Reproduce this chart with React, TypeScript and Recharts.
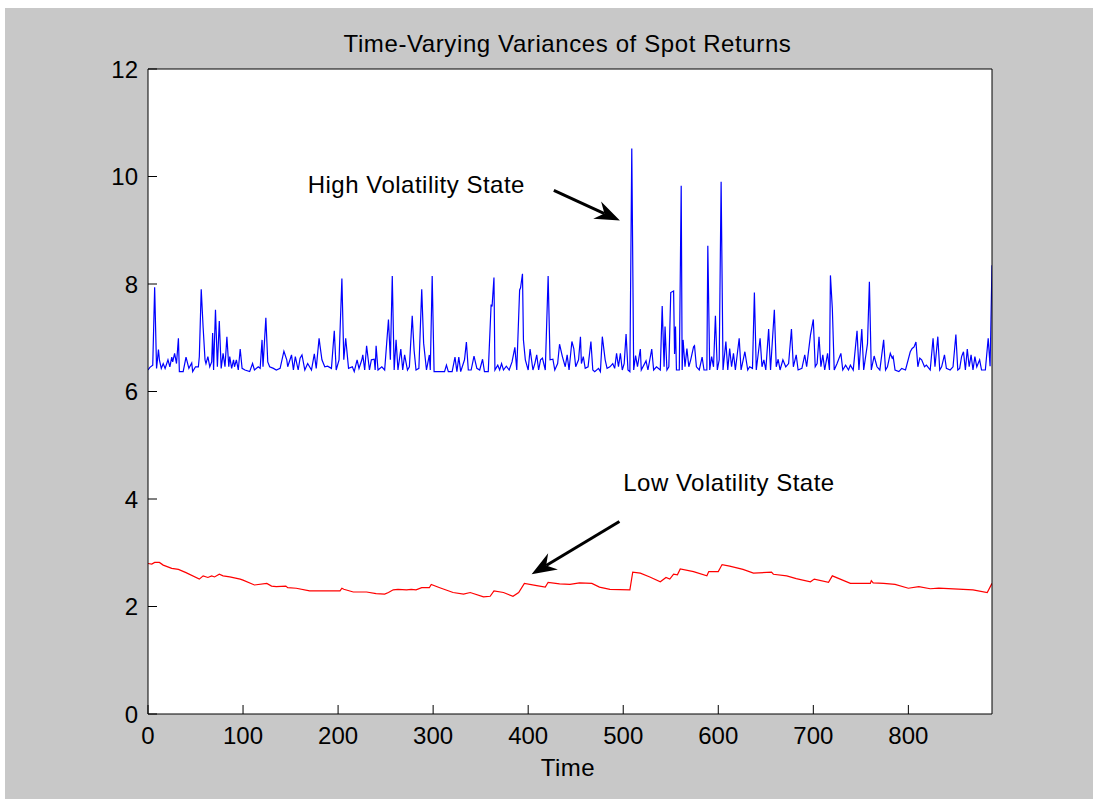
import React from "react";
import {
  LineChart,
  Line,
  XAxis,
  YAxis,
  CartesianGrid,
  ReferenceLine,
  ReferenceDot,
} from "recharts";

// [time, variance]
const highVolatility: [number, number][] = [
  [0, 6.4], [2, 6.45], [5, 6.49], [7, 7.94], [9, 6.43], [11, 6.78], [12, 6.59], [14, 6.43], [16, 6.52], [18, 6.43],
  [21, 6.59], [23, 6.46], [25, 6.64], [26, 6.55], [28, 6.71], [30, 6.52], [32, 6.99], [33, 6.37], [37, 6.37], [40, 6.64],
  [43, 6.43], [46, 6.53], [47, 6.37], [50, 6.46], [53, 6.46], [54, 6.65], [56, 7.9], [58, 7.19], [60, 6.59], [61, 6.52],
  [63, 6.65], [65, 6.46], [67, 6.55], [68, 7.09], [69, 6.4], [71, 7.52], [73, 6.46], [75, 7.31], [77, 6.43], [79, 6.71],
  [81, 6.46], [83, 7.02], [85, 6.46], [86, 6.65], [88, 6.43], [90, 6.59], [91, 6.46], [93, 6.59], [95, 6.4], [97, 6.79],
  [99, 6.43], [102, 6.4], [107, 6.37], [110, 6.52], [112, 6.4], [116, 6.46], [118, 6.43], [120, 6.96], [121, 6.46], [124, 7.37],
  [126, 6.55], [128, 6.46], [132, 6.43], [135, 6.4], [139, 6.43], [143, 6.75], [146, 6.59], [147, 6.46], [151, 6.68], [153, 6.4],
  [155, 6.65], [158, 6.4], [160, 6.62], [162, 6.68], [165, 6.4], [168, 6.52], [172, 6.4], [175, 6.7], [177, 6.43], [180, 6.99],
  [181, 6.85], [183, 6.59], [186, 6.46], [189, 6.47], [193, 6.43], [196, 7.13], [198, 6.4], [201, 6.59], [204, 8.1], [206, 6.59],
  [208, 6.99], [211, 6.43], [215, 6.46], [217, 6.37], [220, 6.59], [222, 6.43], [225, 6.59], [226, 6.68], [228, 6.4], [230, 6.85],
  [233, 6.4], [235, 6.59], [238, 6.6], [239, 6.4], [240, 6.85], [242, 6.4], [246, 6.46], [249, 6.4], [253, 7.34], [255, 6.59],
  [257, 8.15], [259, 6.4], [261, 6.96], [263, 6.4], [266, 6.79], [268, 6.4], [270, 6.68], [273, 6.4], [275, 6.46], [278, 7.41],
  [280, 6.76], [282, 6.4], [285, 6.43], [288, 7.9], [290, 6.9], [293, 6.4], [296, 6.68], [297, 6.4], [299, 8.15], [301, 6.37],
  [312, 6.37], [314, 6.49], [316, 6.37], [320, 6.37], [323, 6.64], [325, 6.37], [327, 6.64], [329, 6.37], [333, 6.59], [335, 6.92],
  [337, 6.4], [340, 6.4], [343, 6.66], [346, 6.43], [349, 6.4], [352, 6.6], [354, 6.37], [358, 6.37], [361, 7.62], [362, 7.58],
  [364, 8.12], [365, 6.4], [368, 6.49], [370, 6.4], [372, 6.52], [374, 6.4], [377, 6.47], [380, 6.4], [383, 6.55], [386, 6.82],
  [388, 6.4], [391, 7.89], [392, 7.93], [394, 8.19], [395, 6.96], [397, 6.59], [400, 6.4], [402, 6.79], [405, 6.4], [407, 6.52],
  [409, 6.68], [411, 6.4], [413, 6.59], [415, 6.62], [418, 6.4], [421, 8.15], [423, 6.59], [426, 6.6], [428, 6.4], [431, 6.52],
  [433, 6.88], [436, 6.65], [439, 6.46], [441, 6.68], [443, 6.4], [446, 6.93], [448, 6.8], [450, 6.46], [453, 6.59], [455, 7.02],
  [456, 6.52], [458, 6.65], [460, 6.43], [463, 6.46], [466, 6.93], [468, 6.4], [470, 6.37], [474, 6.43], [476, 6.37], [478, 7.02],
  [481, 6.59], [483, 6.43], [486, 6.46], [489, 6.52], [491, 6.43], [493, 6.71], [495, 6.46], [497, 6.71], [499, 6.4], [501, 6.52],
  [503, 7.07], [505, 6.4], [507, 6.37], [509, 10.52], [511, 6.4], [513, 6.67], [515, 6.46], [518, 6.79], [519, 6.4], [524, 6.57],
  [526, 6.4], [530, 6.79], [532, 6.4], [535, 6.46], [539, 6.4], [541, 7.59], [543, 6.46], [544, 7.21], [546, 6.4], [548, 6.46],
  [550, 7.84], [553, 7.87], [554, 6.7], [555, 7.21], [556, 6.4], [559, 6.4], [561, 9.83], [562, 6.4], [563, 6.96], [565, 6.46],
  [567, 6.8], [569, 6.46], [571, 6.59], [574, 6.83], [575, 6.85], [577, 6.46], [580, 6.4], [583, 6.64], [585, 6.4], [588, 6.4],
  [589, 8.71], [591, 6.4], [593, 6.65], [595, 6.46], [597, 7.41], [599, 6.4], [601, 6.59], [603, 9.9], [605, 6.4], [608, 6.93],
  [610, 6.4], [612, 6.8], [614, 6.46], [616, 6.71], [618, 6.4], [622, 6.99], [624, 6.4], [628, 6.74], [631, 6.4], [633, 6.46],
  [636, 6.43], [638, 7.84], [640, 6.4], [644, 6.99], [646, 6.46], [648, 6.59], [650, 6.4], [653, 7.16], [655, 6.4], [659, 7.52],
  [661, 6.46], [663, 6.6], [665, 6.4], [668, 6.59], [671, 6.46], [674, 6.52], [677, 7.16], [679, 6.46], [682, 6.68], [684, 6.4],
  [688, 6.43], [691, 6.68], [693, 6.46], [697, 7.05], [700, 7.34], [702, 6.46], [704, 6.52], [706, 7.02], [708, 6.46], [710, 6.68],
  [712, 6.4], [715, 6.71], [717, 6.4], [718, 8.16], [720, 7.55], [722, 6.4], [725, 6.52], [729, 6.71], [731, 6.4], [734, 6.49],
  [737, 6.4], [739, 6.49], [742, 6.4], [746, 7.13], [748, 6.4], [751, 7.16], [753, 6.4], [757, 6.89], [759, 8.04], [761, 6.4],
  [764, 6.66], [767, 6.46], [770, 6.4], [774, 6.96], [776, 6.4], [778, 6.46], [781, 6.71], [783, 6.62], [784, 6.65], [786, 6.4],
  [790, 6.37], [793, 6.43], [797, 6.4], [802, 6.74], [804, 6.8], [806, 6.83], [808, 6.92], [810, 6.46], [812, 6.62], [814, 6.59],
  [817, 6.46], [819, 6.49], [823, 6.4], [826, 6.99], [828, 6.46], [831, 7.02], [833, 6.4], [835, 6.46], [838, 6.68], [840, 6.43],
  [844, 6.4], [847, 6.46], [850, 7.06], [852, 6.4], [854, 6.43], [856, 6.65], [858, 6.74], [860, 6.4], [862, 6.79], [864, 6.46],
  [866, 6.68], [868, 6.4], [870, 6.65], [872, 6.46], [875, 6.59], [877, 6.4], [881, 6.4], [884, 6.99], [886, 6.47], [888, 8.35],
];

const lowVolatility: [number, number][] = [
  [0, 2.8], [4, 2.79], [7, 2.82], [12, 2.82], [16, 2.77], [25, 2.71], [32, 2.69], [40, 2.63], [54, 2.51], [58, 2.57],
  [63, 2.54], [67, 2.57], [70, 2.55], [75, 2.6], [79, 2.57], [86, 2.55], [97, 2.51], [100, 2.49], [112, 2.4], [125, 2.43],
  [130, 2.38], [135, 2.37], [145, 2.38], [147, 2.35], [156, 2.34], [170, 2.29], [202, 2.29], [204, 2.34], [206, 2.32], [216, 2.27],
  [230, 2.27], [240, 2.24], [249, 2.23], [253, 2.26], [258, 2.31], [263, 2.32], [272, 2.31], [277, 2.32], [282, 2.31], [288, 2.35],
  [296, 2.35], [298, 2.41], [307, 2.35], [321, 2.26], [332, 2.23], [339, 2.26], [353, 2.18], [360, 2.19], [364, 2.29], [374, 2.26],
  [384, 2.19], [390, 2.26], [396, 2.43], [409, 2.39], [418, 2.36], [421, 2.45], [433, 2.42], [444, 2.41], [454, 2.44], [467, 2.43],
  [475, 2.36], [486, 2.32], [507, 2.31], [510, 2.64], [518, 2.62], [528, 2.55], [539, 2.46], [545, 2.54], [549, 2.51], [553, 2.6],
  [557, 2.59], [560, 2.7], [574, 2.65], [588, 2.57], [590, 2.65], [600, 2.65], [604, 2.78], [612, 2.75], [626, 2.69], [637, 2.62],
  [656, 2.64], [658, 2.6], [672, 2.57], [682, 2.52], [697, 2.46], [701, 2.51], [716, 2.45], [720, 2.57], [739, 2.43], [760, 2.43],
  [761, 2.48], [763, 2.44], [774, 2.43], [786, 2.41], [800, 2.34], [811, 2.37], [823, 2.33], [832, 2.34], [868, 2.31], [883, 2.26],
  [888, 2.43],
];

const timeTicks = [0, 100, 200, 300, 400, 500, 600, 700, 800];
const varianceTicks = [0, 2, 4, 6, 8, 10, 12];
const timeDomain = [0, 888];
const varianceDomain = [0, 12];

const title = "Time-Varying Variances of Spot Returns";
const xLabel = "Time";
const highNote = "High Volatility State";
const lowNote = "Low Volatility State";

// annotation anchors, in data units
const highNoteAt = { x: 168, y: 9.69 };
const lowNoteAt = { x: 500, y: 4.14 };
const highArrow = [{ x: 427, y: 9.74 }, { x: 496.5, y: 9.18 }];
const lowArrow = [{ x: 496, y: 3.58 }, { x: 403.6, y: 2.6 }];

const FONT = "'Liberation Sans', Arial, Helvetica, sans-serif";

const Arrow = (props: any) => {
  const { x1, y1, x2, y2 } = props;
  const dx = x2 - x1;
  const dy = y2 - y1;
  const len = Math.hypot(dx, dy) || 1;
  const ux = dx / len;
  const uy = dy / len;
  const px = -uy;
  const py = ux;
  const head = 25;
  const half = 9.5;
  const notch = 17;
  const bx = x2 - ux * head;
  const by = y2 - uy * head;
  const nx = x2 - ux * notch;
  const ny = y2 - uy * notch;
  return (
    <g>
      <line x1={x1} y1={y1} x2={nx} y2={ny} stroke="#000" strokeWidth={3} />
      <polygon
        points={`${x2},${y2} ${bx + px * half},${by + py * half} ${nx},${ny} ${bx - px * half},${by - py * half}`}
        fill="#000"
      />
    </g>
  );
};

const note = (text: string) => (props: any) => (
  <text x={props.cx} y={props.cy} fontSize={24} fontFamily={FONT} letterSpacing={0.5} fill="#000">
    {text}
  </text>
);

export default function App() {
  const highData = highVolatility.map(([t, v]) => ({ t, v }));
  const lowData = lowVolatility.map(([t, v]) => ({ t, v }));
  const tickStyle = { fill: "#000", fontSize: 24, fontFamily: FONT };

  return (
    <div style={{ position: "absolute", left: 0, top: 0, width: 1093, height: 799, background: "#fff" }}>
      <div style={{ position: "absolute", left: 5, top: 8, width: 1088, height: 791, background: "#c8c8c8" }}>
        <LineChart
          width={1088}
          height={791}
          margin={{ top: 60, right: 100, bottom: 84, left: 142 }}
        >
          <CartesianGrid horizontal={false} vertical={false} fill="#fff" fillOpacity={1} />
          <XAxis
            dataKey="t"
            type="number"
            domain={timeDomain}
            ticks={timeTicks}
            interval={0}
            height={1}
            tickSize={-9}
            tickMargin={22}
            axisLine={{ stroke: "#000" }}
            tickLine={{ stroke: "#000" }}
            tick={tickStyle}
            allowDataOverflow
          />
          <XAxis
            xAxisId="top"
            orientation="top"
            type="number"
            domain={timeDomain}
            ticks={timeTicks}
            interval={0}
            height={1}
            tickSize={-9}
            tick={false}
            axisLine={{ stroke: "#000" }}
            tickLine={{ stroke: "#000" }}
            allowDataOverflow
          />
          <YAxis
            type="number"
            domain={varianceDomain}
            ticks={varianceTicks}
            interval={0}
            width={1}
            tickSize={-9}
            tickMargin={19}
            axisLine={{ stroke: "#000" }}
            tickLine={{ stroke: "#000" }}
            tick={tickStyle}
            allowDataOverflow
          />
          <YAxis
            yAxisId="right"
            orientation="right"
            type="number"
            domain={varianceDomain}
            ticks={varianceTicks}
            interval={0}
            width={1}
            tickSize={-9}
            tick={false}
            axisLine={{ stroke: "#000" }}
            tickLine={{ stroke: "#000" }}
            allowDataOverflow
          />
          <Line
            data={highData}
            dataKey="v"
            type="linear"
            stroke="#0000ff"
            strokeWidth={1.2}
            dot={false}
            isAnimationActive={false}
          />
          <Line
            data={lowData}
            dataKey="v"
            type="linear"
            stroke="#ff0000"
            strokeWidth={1.2}
            dot={false}
            isAnimationActive={false}
          />
          <ReferenceLine segment={highArrow} shape={Arrow} ifOverflow="visible" />
          <ReferenceLine segment={lowArrow} shape={Arrow} ifOverflow="visible" />
          <ReferenceDot x={highNoteAt.x} y={highNoteAt.y} shape={note(highNote)} ifOverflow="visible" />
          <ReferenceDot x={lowNoteAt.x} y={lowNoteAt.y} shape={note(lowNote)} ifOverflow="visible" />
        </LineChart>
      </div>
      <svg
        width={1093}
        height={799}
        style={{ position: "absolute", left: 0, top: 0, pointerEvents: "none" }}
      >
        <text x={567.5} y={52} textAnchor="middle" fontSize={24} fontFamily={FONT} letterSpacing={0.6} fill="#000">
          {title}
        </text>
        <text x={568} y={776} textAnchor="middle" fontSize={24} fontFamily={FONT} letterSpacing={0.5} fill="#000">
          {xLabel}
        </text>
      </svg>
    </div>
  );
}
